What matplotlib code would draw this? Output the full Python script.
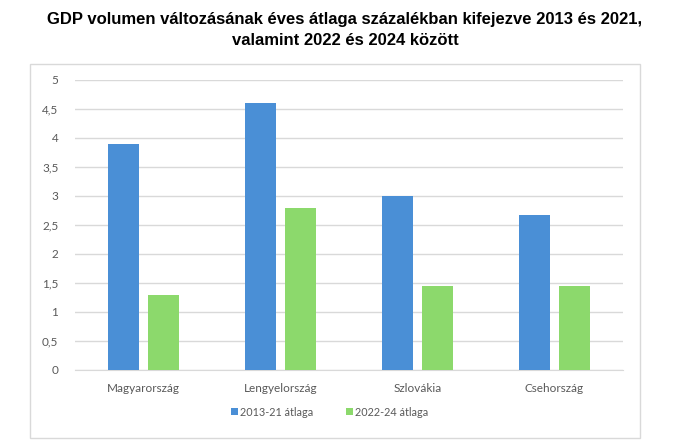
import matplotlib
matplotlib.use("Agg")
import matplotlib.pyplot as plt
from matplotlib.patches import Rectangle
import numpy as np

countries = ["Magyarország", "Lengyelország", "Szlovákia", "Csehország"]
avg_2013_21 = [3.9, 4.6, 3.0, 2.67]
avg_2022_24 = [1.3, 2.8, 1.45, 1.45]
series_names = ["2013-21 átlaga", "2022-24 átlaga"]
yticks = [0, 0.5, 1, 1.5, 2, 2.5, 3, 3.5, 4, 4.5, 5]
ytick_labels = ["0", "0,5", "1", "1,5", "2", "2,5", "3", "3,5", "4", "4,5", "5"]

title = ("GDP volumen változásának éves átlaga százalékban kifejezve 2013 és 2021,\n"
         "valamint 2022 és 2024 között")

blue = "#4a8fd6"
green = "#8cd96c"
gray = "#595959"

fig = plt.figure(figsize=(6.9, 4.42), dpi=100)
W, H = 690, 442

# chart frame
fig.patches.append(Rectangle((30 / W, 1 - 438 / H), 610 / W, 374 / H,
                             transform=fig.transFigure, fill=False,
                             edgecolor="#d9d9d9", linewidth=1))

fig.text(345 / W, 1 - 30 / H, title, ha="center", va="center",
         fontsize=12, fontweight="bold", family="Liberation Sans",
         linespacing=1.5)

ax = fig.add_axes([75 / W, 1 - 370 / H, 548 / W, 290 / H])
x = np.arange(len(countries))
bw = 0.226
gap = 0.066
ax.bar(x - (bw + gap) / 2, avg_2013_21, bw, color=blue, label=series_names[0], zorder=3)
ax.bar(x + (bw + gap) / 2, avg_2022_24, bw, color=green, label=series_names[1], zorder=3)

ax.set_xlim(-0.5, len(countries) - 0.5)
ax.set_ylim(0, 5)
ax.set_yticks(yticks)
ax.set_yticklabels(ytick_labels)
ax.set_xticks(x)
ax.set_xticklabels(countries)
ax.yaxis.grid(True, color="#d9d9d9", linewidth=1, zorder=0)
for s in ["top", "right", "left"]:
    ax.spines[s].set_visible(False)
ax.spines["bottom"].set_color("#d9d9d9")
ax.tick_params(length=0, labelsize=8.5, labelcolor=gray)
ax.tick_params(axis="y", pad=12)
ax.tick_params(axis="x", pad=9)
for lbl in ax.get_xticklabels() + ax.get_yticklabels():
    lbl.set_family("Lato")

leg = ax.legend(loc="center", bbox_to_anchor=(330 / W, 1 - 412 / H),
                bbox_transform=fig.transFigure, ncol=2, frameon=False,
                handlelength=0.6, handleheight=0.6, handletextpad=0.25,
                columnspacing=3.0, prop={"family": "Lato", "size": 7.8})
for t in leg.get_texts():
    t.set_color(gray)

fig.savefig("out.png", dpi=100, facecolor="white")
